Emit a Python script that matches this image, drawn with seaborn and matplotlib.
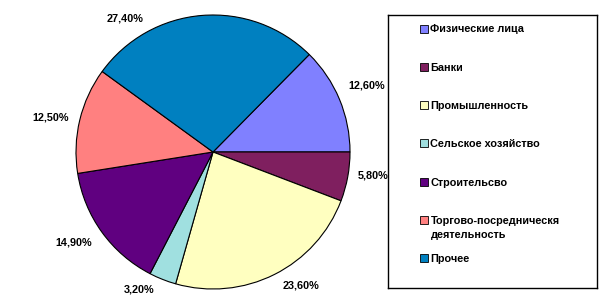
import matplotlib
matplotlib.use("Agg")
import matplotlib.pyplot as plt
from matplotlib.patches import Rectangle
import seaborn as sns

categories = ["Физические лица", "Банки", "Промышленность", "Сельское хозяйство",
              "Строительсво", "Торгово-посредническя\nдеятельность", "Прочее"]
shares = [12.6, 5.8, 23.6, 3.2, 14.9, 12.5, 27.4]
value_labels = ["12,60%", "5,80%", "23,60%", "3,20%", "14,90%", "12,50%", "27,40%"]
colors = ["#8080FF", "#7F1F5F", "#FFFFC0", "#A0E0E0", "#600080", "#FF8080", "#0080C0"]

# label anchor positions (axes data units, pie radius = 1)
label_pos = [(1.124, 0.489), (1.168, -0.168), (0.642, -0.978), (-0.540, -1.007),
             (-1.015, -0.664), (-1.182, 0.255), (-0.642, 0.971)]

sns.set_theme(style="white")
plt.rcParams["font.family"] = ["Liberation Sans", "DejaVu Sans"]

W, H = 603, 303
fig = plt.figure(figsize=(W / 100, H / 100), dpi=100)
fig.patch.set_facecolor("white")

cx, cy, r = 213, 152, 137
ax = fig.add_axes([(cx - r) / W, (H - cy - r) / H, 2 * r / W, 2 * r / H])
palette = sns.color_palette(colors)
start = shares[0] / sum(shares) * 360
ax.pie(shares, colors=palette, startangle=start, counterclock=False, radius=1,
       wedgeprops=dict(edgecolor="black", linewidth=0.8))
ax.set_xlim(-1, 1)
ax.set_ylim(-1, 1)
ax.set_aspect("equal")
ax.axis("off")
for (x, y), t in zip(label_pos, value_labels):
    ax.text(x, y, t, ha="center", va="center", fontsize=7.8, fontweight="bold",
            color="black", clip_on=False)

# legend box
lx0, ly0, lx1, ly1 = 388, 15, 597, 288
lax = fig.add_axes([lx0 / W, (H - ly1) / H, (lx1 - lx0) / W, (ly1 - ly0) / H])
lax.set_xlim(lx0, lx1)
lax.set_ylim(ly1, ly0)
lax.set_xticks([])
lax.set_yticks([])
for s in lax.spines.values():
    s.set_visible(True)
    s.set_color("black")
    s.set_linewidth(1.0)
step = 38.3
for i, (lab, col) in enumerate(zip(categories, colors)):
    y = 28.5 + i * step
    lax.add_patch(Rectangle((420, y - 4), 8, 8, facecolor=col, edgecolor="black", linewidth=0.6))
    lax.text(430.5, y - 4, lab, ha="left", va="top", fontsize=7.8, fontweight="bold",
             color="black", linespacing=1.5)

fig.savefig("out.png", dpi=100)
